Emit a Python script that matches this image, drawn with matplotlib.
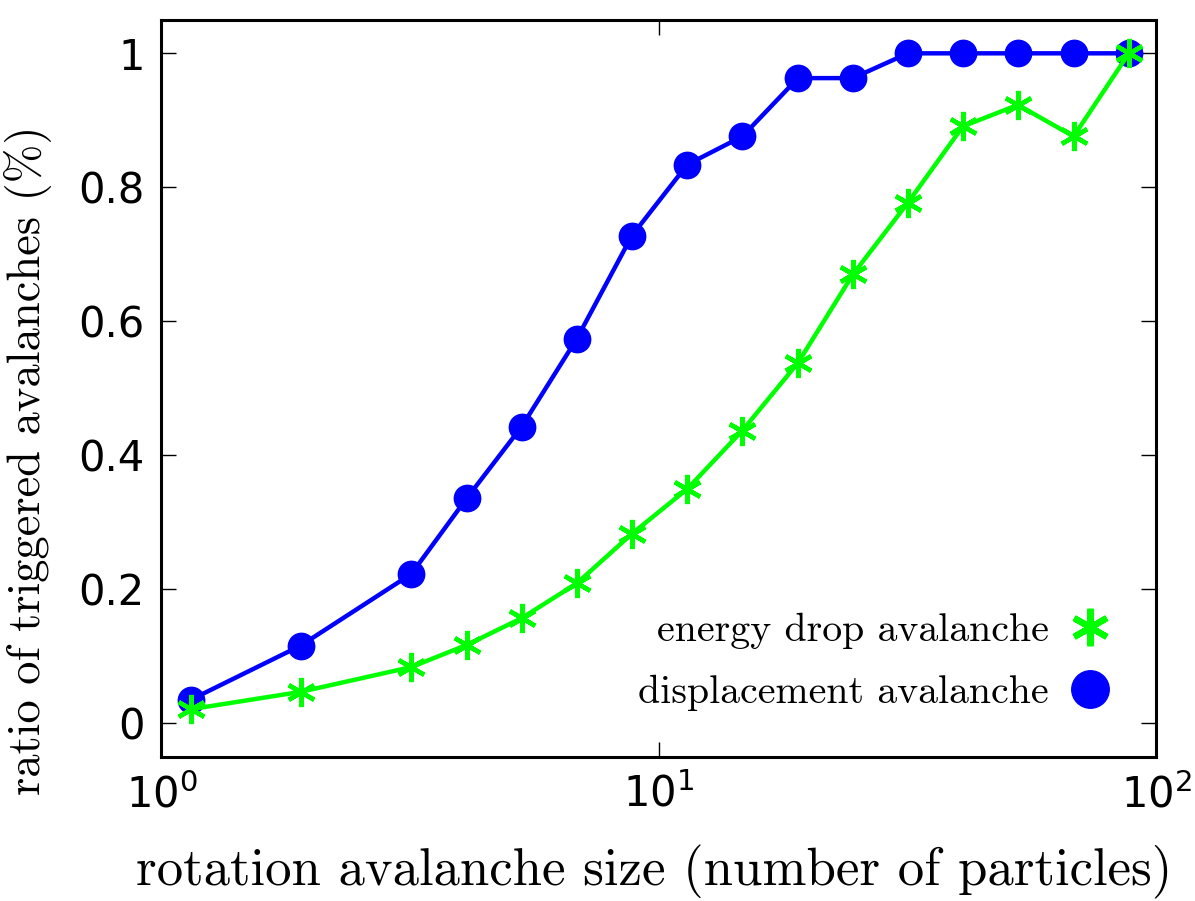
import numpy as np
import matplotlib
matplotlib.use("Agg")
import matplotlib.pyplot as plt
from matplotlib.lines import Line2D

# avalanche size bins (number of particles)
sizes = [1.144, 1.905, 3.18, 4.11, 5.30, 6.84, 8.83, 11.41, 14.72,
         19.04, 24.55, 31.67, 40.85, 52.7, 68.2, 88.1]
# ratio of triggered avalanches
displacement = [0.035, 0.116, 0.223, 0.336, 0.443, 0.574, 0.728, 0.834,
                0.876, 0.963, 0.963, 1.0, 1.0, 1.0, 1.0, 1.0]
energy_drop = [0.021, 0.047, 0.084, 0.117, 0.157, 0.209, 0.283, 0.350,
               0.437, 0.538, 0.670, 0.777, 0.891, 0.923, 0.876, 1.0]

labels = ["energy drop avalanche", "displacement avalanche"]
yticks = [0, 0.2, 0.4, 0.6, 0.8, 1]
ytick_labels = ["0", "0.2", "0.4", "0.6", "0.8", "1"]

blue = "#0000ff"
green = "#00ff00"
star = (6, 2, 0)

def main():
    fig = plt.figure(figsize=(11.95, 9.01), dpi=100)
    ax = fig.add_axes([0.1351, 0.160, 0.8325, 0.818])

    ax.plot(sizes, displacement, color=blue, lw=3.2, marker="o", ms=19,
            mec=blue, mfc=blue)
    ax.plot(sizes, energy_drop, color=green, lw=3.2, marker=star, ms=21,
            mec=green, mew=3.2)

    ax.set_xscale("log")
    ax.set_xlim(1, 100)
    ax.set_ylim(-0.05, 1.05)
    ax.set_xticks([1, 10, 100])
    ax.minorticks_off()
    ax.set_yticks(yticks)
    ax.set_yticklabels(ytick_labels)

    ax.tick_params(which="both", direction="in", top=True, right=True,
                   length=11, width=1, labelsize=30, pad=12)
    for sp in ax.spines.values():
        sp.set_linewidth(2.2)

    ax.set_xlabel("rotation avalanche size (number of particles)",
                  family="cmr10", fontsize=38)
    ax.xaxis.set_label_coords(0.495, -0.12)
    ax.set_ylabel("ratio of triggered avalanches (%)",
                  family="cmr10", fontsize=33.5)
    ax.yaxis.set_label_coords(-0.110, 0.403)

    handles = [
        Line2D([], [], ls="none", marker=star, ms=27, mec=green, mew=4.5),
        Line2D([], [], ls="none", marker="o", ms=27, mec=blue, mfc=blue),
    ]
    ax.legend(handles, labels, loc="lower right", frameon=False,
              markerfirst=False, prop={"family": "cmr10", "size": 28.7},
              bbox_to_anchor=(0.989, 0.013), handletextpad=0.52,
              handlelength=1.0, labelspacing=0.65)

    fig.savefig("out.png", dpi=100)

if __name__ == "__main__":
    main()
